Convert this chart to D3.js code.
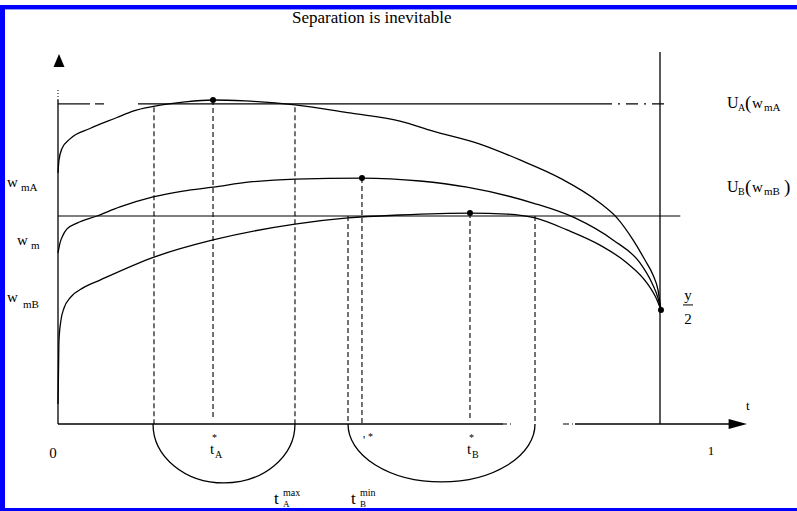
<!DOCTYPE html>
<html><head><meta charset="utf-8">
<script src="https://cdn.jsdelivr.net/npm/d3@7"></script>
<style>
body{margin:0;background:#fff}
svg{display:block}
text{font-family:"Liberation Serif","Times New Roman",serif;fill:#000}
</style>
</head><body>
<svg id="c" width="797" height="511"></svg>
<script>
// ---------- data (t on [0,1], value on [0,1]) ----------
const titleText = "Separation is inevitable";

const curveUA = [[0,.775],[.0015,.815],[.0061,.850],[.0184,.880],[.049,.912],[.0903,.946],[.1148,.966],[.1485,.981],[.1945,.994],[.2374,1.0],[.2864,.997],[.3629,.985],[.4472,.960],[.5237,.935],[.5743,.904],[.6462,.864],[.7075,.815],[.7688,.759],[.8300,.682],[.8560,.636],[.8806,.568],[.8989,.506],[.9112,.460],[.9188,.414],[.9234,.352]];

const curveWmA = [[0,.528],[.0031,.559],[.0077,.583],[.0138,.602],[.0291,.620],[.0597,.642],[.0949,.670],[.1455,.701],[.1914,.719],[.2374,.731],[.2940,.747],[.3629,.756],[.4655,.759],[.5544,.750],[.6263,.731],[.7274,.682],[.7917,.636],[.8499,.568],[.8913,.497],[.9096,.435],[.9188,.389],[.9234,.352]];

const curveWmB = [[0,.062],[.0008,.167],[.0015,.259],[.0046,.321],[.0092,.358],[.0184,.389],[.0383,.420],[.0643,.444],[.1470,.515],[.2374,.568],[.3629,.617],[.4441,.636],[.5237,.645],[.6309,.651],[.6876,.648],[.7305,.636],[.7795,.599],[.8300,.552],[.8714,.497],[.9020,.435],[.9173,.383],[.9234,.352]];

const levelUA = 0.988;
const levelWm = 0.642;
const tHalf = 0.9219;          // vertical line where curves meet y/2
const peakPoints = [[.2374,1.0],[.4655,.759],[.6309,.651],[.9234,.352]];

// dashed guide lines: [t, top value, bottom value]
const guides = [[.1470,.978,0],[.2374,1.0,.015],[.3629,.978,0],[.4441,.642,0],[.4655,.759,0],[.6309,.651,.015],[.7305,.642,0]];

// arcs under the axis: [t start, t end, depth]
const arcs = [[.1455,.3629,.182],[.4441,.7305,.179]];

const xTickValues = [0, 1];
const xTickLabels = ["0", "1"];

// ---------- drawing ----------
const svg = d3.select("#c");
const x = d3.scaleLinear().domain([0,1]).range([58,711]);
const y = d3.scaleLinear().domain([0,1]).range([424,100]);

// frame
svg.append("rect").attr("x",0).attr("y",5).attr("width",797).attr("height",4).attr("fill","#0000ff");
svg.append("rect").attr("x",0).attr("y",9).attr("width",797).attr("height",1).attr("fill","#9a9aff");
svg.append("rect").attr("x",0).attr("y",5).attr("width",5).attr("height",506).attr("fill","#0000ff");
svg.append("rect").attr("x",0).attr("y",508).attr("width",797).attr("height",3).attr("fill","#0000ff");

// title
svg.append("text").attr("x",292).attr("y",23).attr("font-size",17).text(titleText);

const seg = (t1,v1,t2,v2,dash,w) => svg.append("line")
  .attr("x1",x(t1)).attr("y1",y(v1)).attr("x2",x(t2)).attr("y2",y(v2))
  .attr("stroke","#000").attr("stroke-width",w||1.2)
  .attr("stroke-dasharray",dash||null);

// y axis
seg(0,0,0,1,null,1.3);
seg(0,1,0,1.037,"1,2",1);
svg.append("path").attr("d",`M${x(0)+1},54 L${x(0)+6.5},67 L${x(0)-4.5},67 Z`).attr("fill","#000");

// x axis
seg(0,0,.6815,0,null,1.3);
seg(.6815,0,.6983,0,"4,3,1,3",1.2);
seg(.7734,0,.7917,0,"6,3,1,3",1.2);
seg(.7917,0,1.030,0,null,1.3);
svg.append("path").attr("d",`M${x(1.0551)},${y(0)} L${x(1.027)},${y(0)-5} L${x(1.027)},${y(0)+5} Z`).attr("fill","#000");

// vertical line at y/2
seg(tHalf,0,tHalf,1.148,null,1.3);

// horizontal levels
seg(0,levelUA,.049,levelUA,null,1.2);
seg(.0567,levelUA,.0704,levelUA,null,1.2);
seg(.1225,levelUA,.830,levelUA,null,1.2);
seg(.830,levelUA,.934,levelUA,"12,6,2,6",1.2);
seg(0,levelWm,.953,levelWm,null,1.2);

// dashed guides
guides.forEach(g => seg(g[0],g[1],g[0],g[2],"5,3",1.1));

// arcs
arcs.forEach(a => {
  const x1 = x(a[0]), x2 = x(a[1]), y0 = y(0);
  const rx = (x2-x1)/2, ry = y(-a[2]) - y0;
  svg.append("path").attr("d",`M${x1},${y0} A${rx},${ry} 0 0 0 ${x2},${y0}`)
    .attr("fill","none").attr("stroke","#000").attr("stroke-width",1.3);
});

// curves
const line = d3.line().x(d=>x(d[0])).y(d=>y(d[1])).curve(d3.curveMonotoneX);
[curveUA, curveWmA, curveWmB].forEach(c =>
  svg.append("path").datum(c).attr("d",line)
    .attr("fill","none").attr("stroke","#000").attr("stroke-width",1.3));

// peak dots
svg.selectAll("circle.pk").data(peakPoints).enter().append("circle")
  .attr("cx",d=>x(d[0])).attr("cy",d=>y(d[1])).attr("r",3).attr("fill","#000");

// labels helper: parts = [text, dx, dy, size]
function label(px, py, parts){
  const g = svg.append("g").attr("transform",`translate(${px},${py})`);
  parts.forEach(p => g.append("text").attr("x",p[1]).attr("y",p[2]).attr("font-size",p[3]).text(p[0]));
}

// left labels
label(7, y(.731), [["w",0,0,15],["mA",14,4,11]]);
label(17, y(.552), [["w",0,0,15],["m",14,4,11]]);
label(7, y(.377), [["w",0,0,15],["mB",16,6,11]]);

// right labels
label(727, y(levelUA)+4, [["U",0,0,16],["A",11,3,10],["(",18,1,19],["w",25,0,15],["mA",37,3,11]]);
label(727, y(.725)+3, [["U",0,0,16],["B",11,3,10],["(",18,1,19],["w",25,0,15],["mB",37,3,11],[")",57,1,19]]);

// y/2
svg.append("text").attr("x",x(tHalf)+28).attr("y",y(.352)-10).attr("font-size",15).attr("text-anchor","middle").text("y");
svg.append("line").attr("x1",x(tHalf)+23).attr("x2",x(tHalf)+33).attr("y1",y(.352)-5).attr("y2",y(.352)-5).attr("stroke","#000").attr("stroke-width",1);
svg.append("text").attr("x",x(tHalf)+28).attr("y",y(.352)+14).attr("font-size",15).attr("text-anchor","middle").text("2");

// axis tick labels
svg.selectAll("text.tk").data(xTickValues).enter().append("text")
  .attr("x",(d,i)=>x(d)+(i===0?-5:0)).attr("y",(d,i)=>y(0)+(i===0?34:31))
  .attr("font-size",(d,i)=>i===0?15:13).attr("text-anchor","middle")
  .text((d,i)=>xTickLabels[i]);
svg.append("text").attr("x",746).attr("y",410).attr("font-size",13).text("t");

// t* labels
label(x(.2374)-3, y(0)+30, [["t",0,0,15],["*",2,-13,10],["A",5,4,10]]);
label(x(.6309)-3, y(0)+30, [["t",0,0,15],["*",2,-13,10],["B",5,4,10]]);
label(x(.4655)+1, y(0)+20, [["'",0,0,12],["*",5,-4,10]]);

// t max / min
label(274, 504, [["t",0,0,17],["max",9,-8,10],["A",9,3,9]]);
label(351, 504, [["t",0,0,17],["min",9,-8,10],["B",9,3,9]]);
</script>
</body></html>
